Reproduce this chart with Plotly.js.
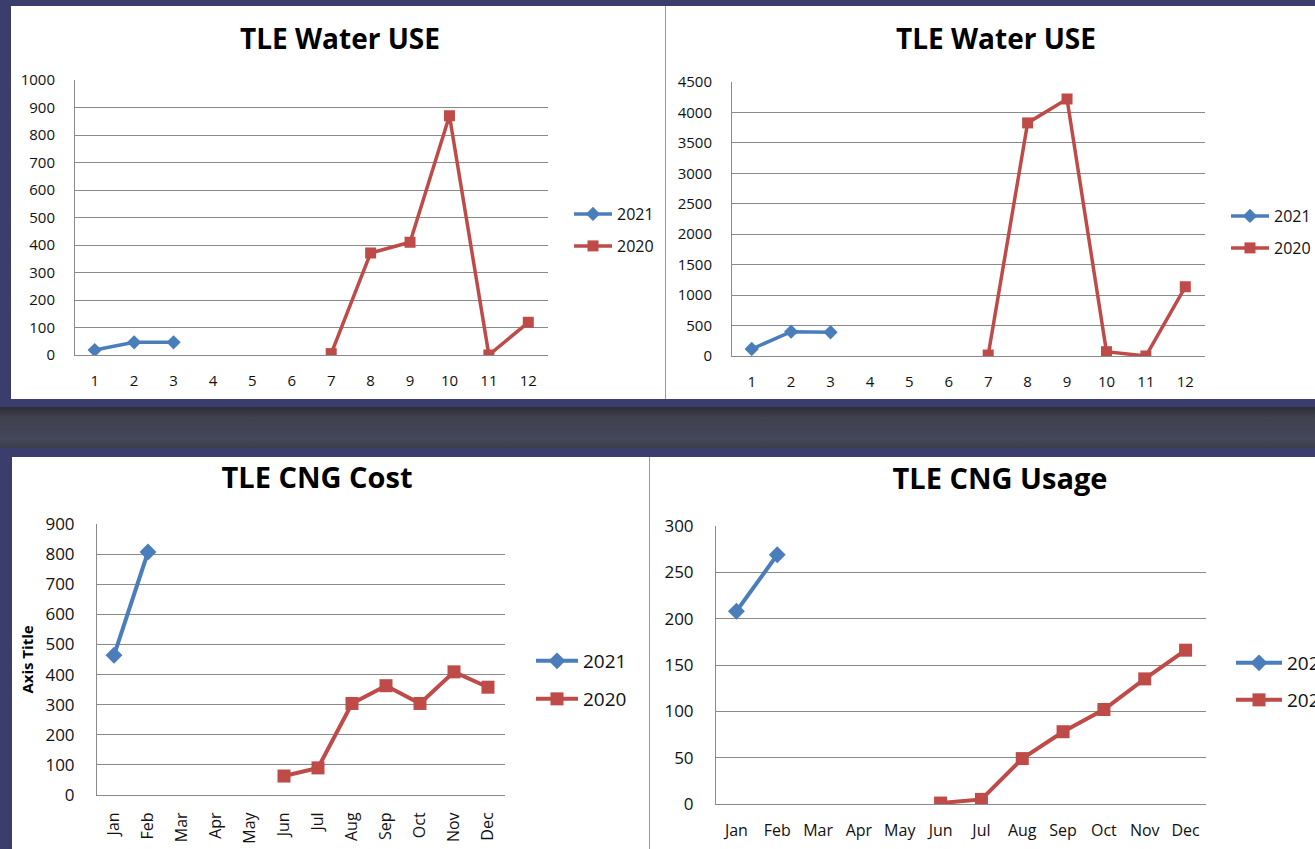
<!DOCTYPE html>
<html><head><meta charset="utf-8">
<script src="https://cdn.plot.ly/plotly-3.0.1.min.js"></script>
<style>
html,body{margin:0;padding:0;width:1315px;height:849px;overflow:hidden;background:#3b3e6c;}
body{position:relative;}
.panel{position:absolute;background:#fff;}
#band{position:absolute;left:0;top:407px;width:1315px;height:41px;background:linear-gradient(#2c2d36,#3f414e 25%,#45475a 80%,#3b3d4b);}
.sep{position:absolute;background:#9a9a9a;width:1px;}
</style></head><body>
<div id="band"></div>
<div id="c1" class="panel" style="left:11px;top:6px;width:654px;height:393px"></div>
<div class="sep" style="left:665px;top:6px;height:393px"></div>
<div id="c2" class="panel" style="left:666px;top:6px;width:649px;height:393px"></div>
<div id="c3" class="panel" style="left:12px;top:457px;width:637px;height:392px"></div>
<div class="sep" style="left:649px;top:457px;height:392px"></div>
<div id="c4" class="panel" style="left:650px;top:457px;width:665px;height:392px"></div>
<script>
// ---- data ----
const monthNums = [1,2,3,4,5,6,7,8,9,10,11,12];
const monthNames = ['Jan','Feb','Mar','Apr','May','Jun','Jul','Aug','Sep','Oct','Nov','Dec'];
const seriesNames = ['2021','2020'];

const waterUseSmall2021 = [18,46,46,null,null,null,null,null,null,null,null,null];
const waterUseSmall2020 = [null,null,null,null,null,null,5,371,410,870,0,119];

const waterUseLarge2021 = [115,399,390,null,null,null,null,null,null,null,null,null];
const waterUseLarge2020 = [null,null,null,null,null,null,16,3828,4221,71,0,1137];

const cngCost2021 = [464,807,null,null,null,null,null,null,null,null,null,null];
const cngCost2020 = [null,null,null,null,null,63,90,304,363,304,409,358];

const cngUsage2021 = [208,269,null,null,null,null,null,null,null,null,null,null];
const cngUsage2020 = [null,null,null,null,null,1,5,49,78,102,135,166];

const chartTitles = ['TLE Water USE','TLE Water USE','TLE CNG Cost','TLE CNG Usage'];

// ---- styling ----
const FONT = "'Open Sans', 'DejaVu Sans', sans-serif";
const BLUE = '#4a7ebb', RED = '#be4b48', GRID = '#8a8a8a';

function draw(id, c) {
  const traces = [
    {x: c.x, y: c.y2021, name: seriesNames[0], type: 'scatter', mode: 'lines+markers',
     line: {color: BLUE, width: c.lw}, marker: {symbol: 'diamond', size: c.ds, color: BLUE},
     legend: 'legend', connectgaps: false},
    {x: c.x, y: c.y2020, name: seriesNames[1], type: 'scatter', mode: 'lines+markers',
     line: {color: RED, width: c.lw}, marker: {symbol: 'square', size: c.ss, color: RED},
     legend: 'legend2', connectgaps: false}
  ];
  const W = c.W, H = c.H;
  const leg = (px, py) => ({xref: 'container', yref: 'container', x: px / W, y: 1 - py / H,
    xanchor: 'left', yanchor: 'middle', bgcolor: 'rgba(0,0,0,0)', borderwidth: 0,
    font: {family: FONT, size: c.lf, color: '#111'}, itemwidth: c.iw});
  const layout = {
    width: W, height: H, margin: c.m,
    paper_bgcolor: '#ffffff', plot_bgcolor: '#ffffff',
    font: {family: FONT, color: '#111'},
    showlegend: true,
    title: {text: c.title, font: {family: FONT, size: c.tf, color: '#000', weight: 'bold'},
      xref: 'container', yref: 'container', x: c.tx / W, y: 1 - c.ty / H,
      xanchor: 'center', yanchor: 'middle'},
    xaxis: {type: 'linear', range: [0.5, 12.5], tickvals: monthNums, ticktext: c.xt,
      tickangle: c.ta, showgrid: false, zeroline: false, showline: true, linecolor: GRID,
      linewidth: 1, ticks: '', ticklabelstandoff: c.xso, fixedrange: true,
      tickfont: {family: FONT, size: c.xf, color: '#111'}},
    yaxis: {range: c.yr, dtick: c.dt, tick0: 0, showgrid: true, gridcolor: GRID, gridwidth: 1,
      zeroline: false, showline: true, linecolor: GRID, linewidth: 1, ticks: '',
      ticklabelstandoff: c.yso, fixedrange: true,
      tickfont: {family: FONT, size: c.yf, color: '#111'},
      title: c.at ? {text: c.at, font: {family: FONT, size: 15, color: '#000', weight: 'bold'}, standoff: c.ats} : {text: ''}},
    legend: leg(c.lx, c.ly1),
    legend2: leg(c.lx, c.ly2)
  };
  Plotly.newPlot(id, traces, layout, {staticPlot: true, displayModeBar: false});
}

draw('c1', {W: 654, H: 393, m: {l: 64, r: 117, t: 74, b: 44}, x: monthNums,
  y2021: waterUseSmall2021, y2020: waterUseSmall2020, yr: [0, 1000], dt: 100,
  xt: monthNums.map(String), ta: 0, xf: 15, yf: 15, xso: 12, yso: 16,
  title: chartTitles[0], tf: 28, tx: 329, ty: 33, lf: 16, lx: 558, ly1: 208, ly2: 240, iw: 38,
  lw: 3.5, ds: 11, ss: 11});

draw('c2', {W: 649, H: 393, m: {l: 66, r: 110, t: 76, b: 43}, x: monthNums,
  y2021: waterUseLarge2021, y2020: waterUseLarge2020, yr: [0, 4500], dt: 500,
  xt: monthNums.map(String), ta: 0, xf: 15, yf: 15, xso: 12, yso: 16,
  title: chartTitles[1], tf: 28, tx: 330, ty: 33, lf: 16, lx: 560, ly1: 210, ly2: 242, iw: 38,
  lw: 3.5, ds: 11, ss: 11});

draw('c3', {W: 637, H: 392, m: {l: 85, r: 144, t: 67, b: 54}, x: monthNums,
  y2021: cngCost2021, y2020: cngCost2020, yr: [0, 900], dt: 100,
  xt: monthNames, ta: -90, xf: 16, yf: 17, xso: 10, yso: 18, at: 'Axis Title', ats: 8,
  title: chartTitles[2], tf: 29, tx: 305, ty: 21, lf: 19, lx: 519, ly1: 204, ly2: 242, iw: 42,
  lw: 4, ds: 13, ss: 13});

draw('c4', {W: 665, H: 392, m: {l: 66, r: 109, t: 69, b: 45}, x: monthNums,
  y2021: cngUsage2021, y2020: cngUsage2020, yr: [0, 300], dt: 50,
  xt: monthNames, ta: 0, xf: 16, yf: 17, xso: 12, yso: 18,
  title: chartTitles[3], tf: 29, tx: 350, ty: 22, lf: 19, lx: 581, ly1: 206, ly2: 243, iw: 46,
  lw: 4, ds: 13, ss: 13});
</script>
</body></html>
